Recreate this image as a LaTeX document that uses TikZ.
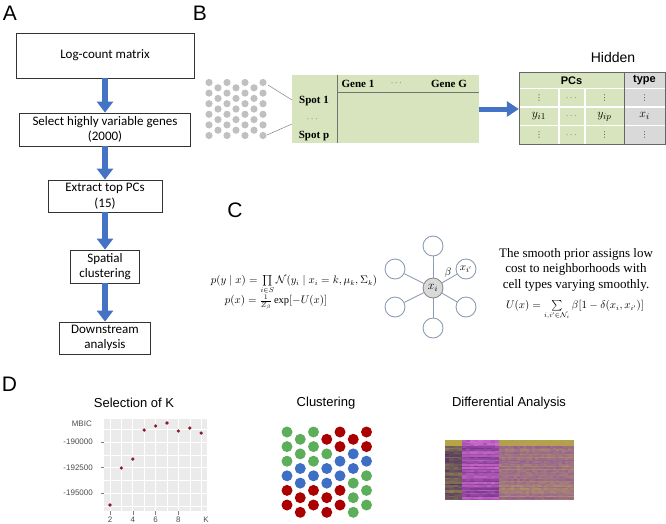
\documentclass[tikz,border=0pt]{standalone}
\usepackage{amsmath,amssymb}
\usepackage{fontspec}
\setmainfont{Liberation Serif}
\newfontfamily\arialf{Liberation Sans}
\newfontfamily\calib{Carlito}
\newfontfamily\djv{DejaVu Sans}
\usetikzlibrary{arrows.meta}
\definecolor{flowblue}{HTML}{4472C4}
\definecolor{tgreen}{HTML}{D7E4BD}
\definecolor{tgray}{HTML}{D9D9D9}
\definecolor{edgec}{HTML}{8E9DB5}
\definecolor{dotgray}{HTML}{C0C0C0}
\definecolor{ggbg}{HTML}{EBEBEB}
\definecolor{ptred}{HTML}{8B1A2B}
\definecolor{cG}{HTML}{5DAE5B}
\definecolor{cR}{HTML}{AA0000}
\definecolor{cB}{HTML}{3D70C4}
\definecolor{hmyel}{HTML}{B5A545}
\definecolor{hmol}{HTML}{8F8055}
\definecolor{hmdk}{HTML}{4F2F62}
\definecolor{hmpk}{HTML}{D66ED6}
\definecolor{hmpu}{HTML}{6E3282}
\definecolor{hmmv}{HTML}{94589A}
\definecolor{hmtan}{HTML}{AE9662}
\begin{document}
\begin{tikzpicture}[x=1pt,y=-1pt,
  panlab/.style={font=\arialf\fontsize{21}{24}\selectfont, inner sep=0pt},
  abox/.style={draw=black!80, line width=0.8pt, fill=white, align=center,
    font=\calib\fontsize{13}{15.5}\selectfont, inner sep=0pt},
  flowarr/.style={draw=flowblue, line width=6.5pt, -{Triangle[width=16pt,length=11pt]}},
  barr/.style={draw=flowblue, line width=5pt, -{Triangle[width=15pt,length=12pt]}},
  tbf/.style={font=\bfseries\fontsize{11}{13}\selectfont, inner sep=0pt},
  hdr/.style={font=\arialf\bfseries\fontsize{11}{13}\selectfont, inner sep=0pt},
  cellm/.style={font=\fontsize{12.5}{14}\selectfont, inner sep=0pt},
  celld/.style={font=\fontsize{9}{9}\selectfont, inner sep=0pt, text=black!70},
  cellv/.style={font=\djv\fontsize{8}{8}\selectfont, inner sep=0pt, text=black!70},
  gnode/.style={circle, draw=edgec, line width=0.9pt, fill=white, minimum size=20pt, inner sep=0pt},
  gedge/.style={draw=edgec, line width=0.9pt},
  ttl/.style={font=\arialf\fontsize{13}{15}\selectfont, inner sep=0pt},
  axl/.style={font=\arialf\fontsize{8}{9}\selectfont, text=black!70, inner sep=0pt}]
\useasboundingbox (0,0) rectangle (666,523);

% ---------------- Panel A ----------------
\node[panlab] (labA) at (10,13) {A};
\node[abox, minimum width=178pt, minimum height=45pt] (a1) at (105,55.5) {Log-count matrix};
\node[abox, minimum width=171pt, minimum height=33pt] (a2) at (105,129.5) {Select highly variable genes\\(2000)};
\node[abox, minimum width=114pt, minimum height=32pt] (a3) at (105,196) {Extract top PCs\\(15)};
\node[abox, minimum width=69pt, minimum height=33pt] (a4) at (105,266.5) {Spatial\\clustering};
\node[abox, minimum width=91pt, minimum height=32pt] (a5) at (105,338) {Downstream\\analysis};
\draw[flowarr] (a1) -- (a2);
\draw[flowarr] (a2) -- (a3);
\draw[flowarr] (a3) -- (a4);
\draw[flowarr] (a4) -- (a5);

% ---------------- Panel B ----------------
\node[panlab] (labB) at (200,13) {B};
\foreach \c in {0,...,6}{
  \pgfmathsetmacro\xx{209+9*\c}
  \ifodd\c
    \foreach \r in {0,...,4}{\fill[dotgray] (\xx,87.8+10.6*\r) circle (3.6);}
  \else
    \foreach \r in {0,...,5}{\fill[dotgray] (\xx,82.5+10.6*\r) circle (3.6);}
  \fi
}
\coordinate (d1) at (268,85);
\coordinate (d2) at (267,135);
\node[fill=tgreen, minimum width=187pt, minimum height=68pt, inner sep=0pt] (gtab) at (385.5,109) {};
\coordinate (s1) at (292,100);
\coordinate (s2) at (292,124);
\draw[gray, line width=0.5pt] (d1) -- (s1);
\draw[gray, line width=0.5pt] (d2) -- (s2);
\draw[black!55, line width=0.6pt] (337,75) -- (337,143);
\draw[black!55, line width=0.6pt] (337,92) -- (479,92);
\node[tbf] (g1) at (358,84) {Gene 1};
\node[celld] (gd) at (397,83) {$\cdots$};
\node[tbf] (gG) at (449,84) {Gene G};
\node[tbf] (sp1) at (314,101) {Spot 1};
\node[celld] (spd) at (313,119) {$\cdots$};
\node[tbf] (spp) at (314,136) {Spot p};

% PCs table
\fill[tgreen] (519,72) rectangle (624,144);
\fill[tgray] (624,72) rectangle (665,144);
\draw[white, line width=1.2pt] (519,88.5) -- (665,88.5) (519,107) -- (665,107) (519,125.5) -- (665,125.5)
  (559,88.5) -- (559,144) (585,88.5) -- (585,144);
\draw[black!60, line width=0.8pt] (519,72) rectangle (665,144);
\draw[black!60, line width=0.8pt] (624,72) -- (624,144);
\node[minimum width=146pt, minimum height=72pt, inner sep=0pt] (pctab) at (592,109) {};
\node[hdr] (hpc) at (571.5,80.5) {PCs};
\node[hdr] (htype) at (644.5,80.5) {type};
\node[cellv] (c11) at (539,98) {⋮};
\node[celld] (c12) at (572,98) {$\cdots$};
\node[cellv] (c13) at (604.5,98) {⋮};
\node[cellv] (c14) at (644.5,98) {⋮};
\node[cellm] (c21) at (539,116.5) {$y_{i1}$};
\node[celld] (c22) at (572,116.5) {$\cdots$};
\node[cellm] (c23) at (604.5,116.5) {$y_{ip}$};
\node[cellm] (c24) at (644.5,116) {$x_i$};
\node[cellv] (c31) at (539,135) {⋮};
\node[celld] (c32) at (572,135) {$\cdots$};
\node[cellv] (c33) at (604.5,135) {⋮};
\node[cellv] (c34) at (644.5,135) {⋮};
\draw[barr] (gtab.east) -- (pctab.west);
\node[font=\arialf\fontsize{14}{16}\selectfont, inner sep=0pt] (hid) at (613,57) {Hidden};

% ---------------- Panel C ----------------
\node[panlab] (labC) at (235,210) {C};
\node[font=\fontsize{10.5}{12}\selectfont, inner sep=0pt] (f1) at (294,285)
  {$p(y\mid x)=\prod\limits_{i\in S}\mathcal{N}(y_i\mid x_i=k,\mu_k,\Sigma_k)$};
\node[font=\fontsize{10.5}{12}\selectfont, inner sep=0pt] (f2) at (276,302)
  {$p(x)=\frac{1}{Z_\beta}\exp[-U(x)]$};
\node[gnode, fill=tgray, draw=black!45] (xc) at (433,288) {\fontsize{12}{14}\selectfont$x_i$};
\node[gnode] (nt) at (433,246) {};
\node[gnode] (nul) at (395,269) {};
\node[gnode] (nur) at (466,269) {\fontsize{11}{13}\selectfont$x_{i'}$};
\node[gnode] (nll) at (395,307) {};
\node[gnode] (nlr) at (466,307) {};
\node[gnode] (nb) at (433,328) {};
\foreach \n in {nt,nul,nur,nll,nlr,nb}{\draw[gedge] (xc) -- (\n);}
\node[font=\fontsize{11}{13}\selectfont, inner sep=0pt] (beta) at (448,273) {$\beta$};
\node[align=center, font=\fontsize{13}{15.5}\selectfont, inner sep=0pt] (ctext) at (576,269.5)
  {The smooth prior assigns low\\cost to neighborhoods with\\cell types varying smoothly.};
\node[font=\fontsize{10.5}{12}\selectfont, inner sep=0pt] (f3) at (575,310)
  {$U(x)=\sum\limits_{i,i'\in\mathcal{N}_i}\beta[1-\delta(x_i,x_{i'})]$};

% ---------------- Panel D ----------------
\node[panlab] (labD) at (9.5,384) {D};
\node[ttl] (t1) at (134,403) {Selection of K};
\node[ttl] (t2) at (326,403) {Clustering};
\node[ttl] (t3) at (509,403) {Differential Analysis};

% MBIC plot
\fill[ggbg] (104,419) rectangle (207,511);
\foreach \k in {3,5,7,9}{\draw[white, line width=0.4pt] (110+11.4*\k-22.8,419) -- (110+11.4*\k-22.8,511);}
\foreach \yy in {429.25,454.75,480.25,505.75}{\draw[white, line width=0.4pt] (104,\yy) -- (207,\yy);}
\foreach \k in {2,4,6,8,10}{\draw[white, line width=0.9pt] (110+11.4*\k-22.8,419) -- (110+11.4*\k-22.8,511);}
\foreach \yy in {442,467.5,493}{\draw[white, line width=0.9pt] (104,\yy) -- (207,\yy);
  \draw[black!50, line width=0.5pt] (100.5,\yy) -- (104,\yy);}
\foreach \k in {2,4,6,8}{\draw[black!50, line width=0.5pt] (110+11.4*\k-22.8,511) -- (110+11.4*\k-22.8,514.5);
  \node[axl] at (110+11.4*\k-22.8,519.5) {\k};}
\node[axl] (kl) at (206,519.5) {K};
\node[axl, anchor=east] (ml) at (92,424) {MBIC};
\node[axl, anchor=east] (y1) at (93,442) {-190000};
\node[axl, anchor=east] (y2) at (93,467.5) {-192500};
\node[axl, anchor=east] (y3) at (93,493) {-195000};
\foreach \k/\yy in {2/505,3/468,4/459,5/430,6/426,7/423,8/431,9/428,10/433}{
  \fill[ptred] (110+11.4*\k-22.8,\yy) circle (1.8);}

% Clustering dots
\foreach \c/\cols in {0/{cG,cG,cG,cB,cR,cR},1/{cG,cG,cB,cB,cR,cR},2/{cG,cG,cG,cB,cR,cR},
  3/{cR,cG,cB,cB,cR,cR},4/{cR,cR,cB,cB,cR,cR},5/{cR,cB,cB,cG,cG,cG},6/{cR,cR,cB,cG,cG,cG}}{
  \foreach \col [count=\r from 0] in \cols {
    \pgfmathsetmacro\yy{432+14.6*\r+7.3*mod(\c,2)}
    \fill[\col] (287+13.25*\c,\yy) circle (5.5);
  }
}

% Heatmap
\pgfmathsetseed{7}
\foreach \r in {0,...,39}{
  \pgfmathsetmacro\ya{440+1.5*\r}
  \pgfmathsetmacro\yb{\ya+1.55}
  \pgfmathsetmacro\ra{rnd}
  \pgfmathsetmacro\rbb{rnd}
  \pgfmathsetmacro\rc{rnd}
  \ifnum\r<4
    \fill[hmyel] (445,\ya) rectangle (462.5,\yb);
    \foreach \s in {0,...,8}{\pgfmathsetmacro\p{int(55+40*rnd)}
      \fill[hmpk!\p!hmpu] (462+4.1*\s,\ya) rectangle (466.2+4.1*\s,\yb);}
    \foreach \s in {0,...,24}{\pgfmathsetmacro\p{int(50+50*rnd)}
      \fill[hmyel!\p!hmtan] (499+3*\s,\ya) rectangle (502.1+3*\s,\yb);}
  \else
    \foreach \s in {0,...,3}{\pgfmathsetmacro\p{int(100*(0.7*\ra+0.3*rnd))}
      \fill[hmol!\p!hmdk] (445+4.25*\s,\ya) rectangle (449.35+4.25*\s,\yb);}
    \foreach \s in {0,...,8}{\pgfmathsetmacro\p{int(100*(0.75*\rbb+0.25*rnd))}
      \fill[hmpk!\p!hmpu] (462+4.1*\s,\ya) rectangle (466.2+4.1*\s,\yb);}
    \foreach \s in {0,...,24}{\pgfmathsetmacro\p{int(100*(0.6*\rc+0.4*rnd))}
      \fill[hmtan!\p!hmmv] (499+3*\s,\ya) rectangle (502.1+3*\s,\yb);}
  \fi
}
\end{tikzpicture}
\end{document}
